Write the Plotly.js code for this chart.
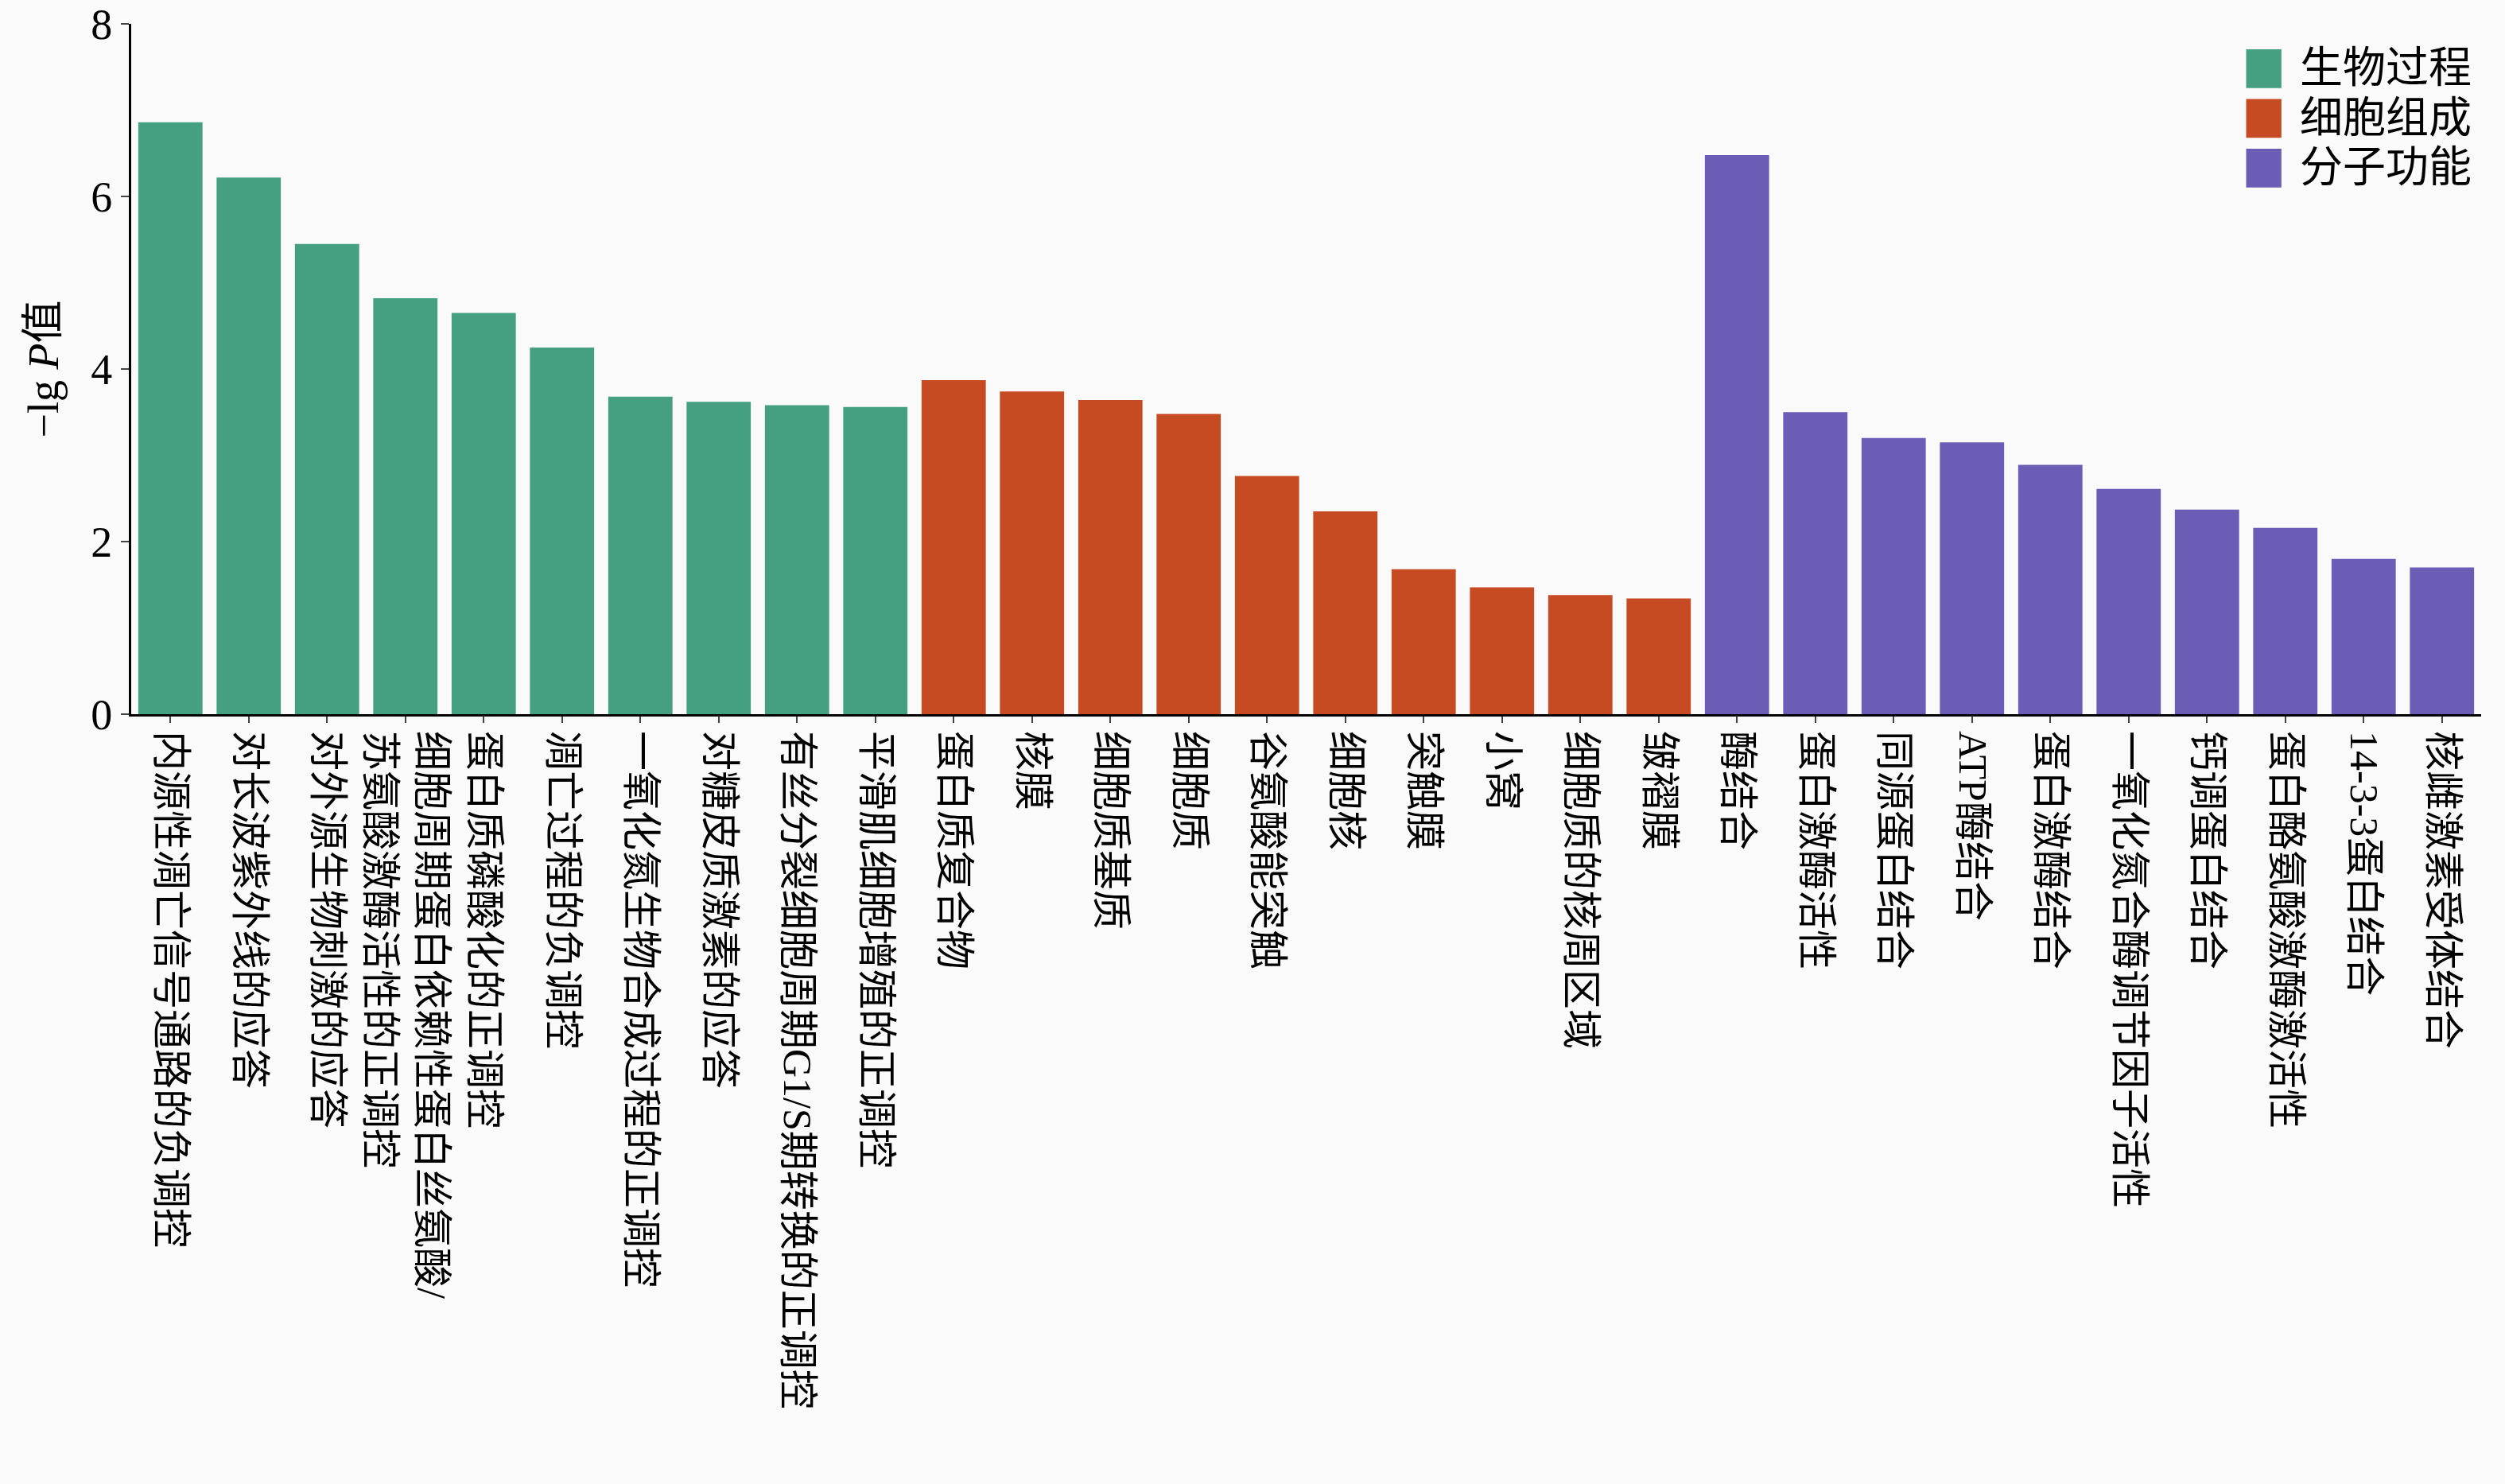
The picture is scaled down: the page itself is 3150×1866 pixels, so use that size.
<!DOCTYPE html>
<html><head><meta charset="utf-8">
<script src="https://cdn.plot.ly/plotly-3.0.1.min.js"></script>
<style>body{margin:0;background:#fafafa}</style></head>
<body><div id="c" style="width:3150px;height:1866px"></div>
<script>
const bpCats = ["内源性凋亡信号通路的负调控","对长波紫外线的应答","对外源生物刺激的应答","细胞周期蛋白依赖性蛋白丝氨酸/<br>苏氨酸激酶活性的正调控","蛋白质磷酸化的正调控","凋亡过程的负调控","一氧化氮生物合成过程的正调控","对糖皮质激素的应答","有丝分裂细胞周期G1/S期转换的正调控","平滑肌细胞增殖的正调控"];
const bpVals = [6.86,6.22,5.45,4.82,4.65,4.25,3.68,3.62,3.58,3.56];
const ccCats = ["蛋白质复合物","核膜","细胞质基质","细胞质","谷氨酸能突触","细胞核","突触膜","小窝","细胞质的核周区域","皱褶膜"];
const ccVals = [3.87,3.74,3.64,3.48,2.76,2.35,1.68,1.47,1.38,1.34];
const mfCats = ["酶结合","蛋白激酶活性","同源蛋白结合","ATP酶结合","蛋白激酶结合","一氧化氮合酶调节因子活性","钙调蛋白结合","蛋白酪氨酸激酶激活性","14-3-3蛋白结合","核雌激素受体结合"];
const mfVals = [6.48,3.50,3.20,3.15,2.89,2.61,2.37,2.16,1.80,1.70];
const names = ["生物过程","细胞组成","分子功能"];
const colors = ["#44a081","#c64b22","#6b5cb5"];
const F = "Liberation Serif, Noto Sans CJK SC, serif";
const data = [[bpCats,bpVals],[ccCats,ccVals],[mfCats,mfVals]].map((d,i)=>({
  type:"bar", x:d[0], y:d[1], name:names[i], marker:{color:colors[i]}, showlegend:false
}));
const shapes = [], annotations = [];
names.forEach((n,i)=>{
  const y0 = 0.935 - i*0.072;
  shapes.push({type:"rect", xref:"paper", yref:"paper", x0:0.9, x1:0.915, y0:y0-0.028, y1:y0+0.028,
    fillcolor:colors[i], line:{width:0}});
  annotations.push({xref:"paper", yref:"paper", x:0.922, y:y0, xanchor:"left", yanchor:"middle",
    text:n, showarrow:false, font:{size:54,family:F}});
});
Plotly.newPlot("c", data, {
  width:3150, height:1866, paper_bgcolor:"#fafafa", plot_bgcolor:"#fafafa",
  margin:{l:165,r:30,t:30,b:968}, bargap:0.18, font:{family:F,color:"#000"},
  xaxis:{tickangle:90, tickfont:{size:50,family:F}, showline:true, linecolor:"#000", linewidth:3,
    ticks:"outside", ticklen:8, tickwidth:2, range:[-0.5,29.5]},
  yaxis:{range:[0,8], dtick:2, showgrid:false, zeroline:false, showline:true, linecolor:"#000", linewidth:3,
    ticks:"outside", ticklen:10, tickwidth:2, tickfont:{size:54,family:F},
    title:{text:"−lg <i>P</i>值", font:{size:54,family:F}, standoff:24}},
  shapes, annotations
}, {staticPlot:true});
</script></body></html>
